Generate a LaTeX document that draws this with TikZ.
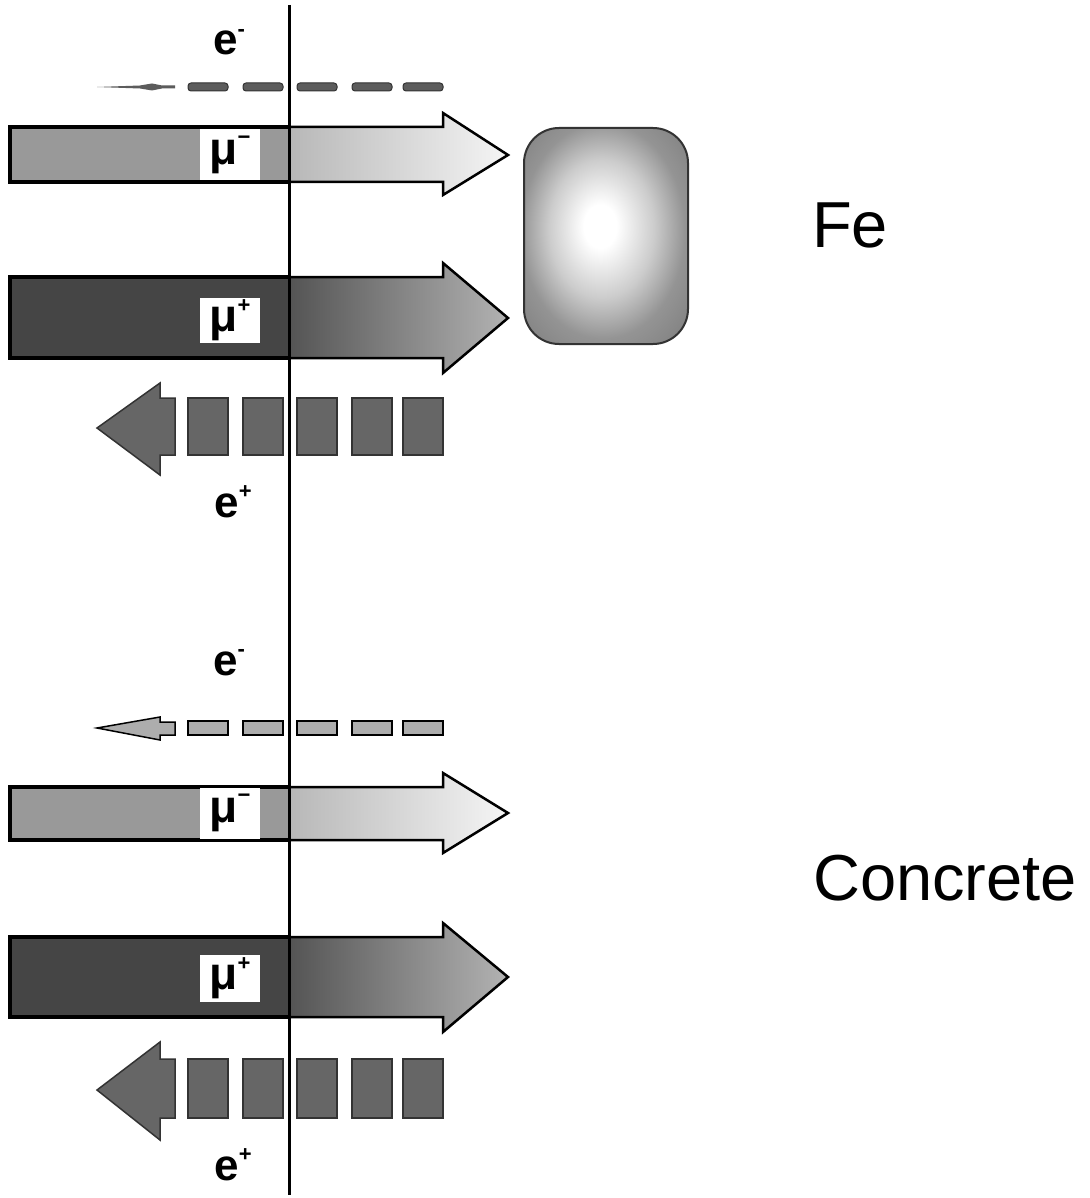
\documentclass[tikz,border=0pt]{standalone}
\usepackage{fontspec}
\setmainfont{Liberation Sans}

% grey levels used by the particle beams
\definecolor{bodylight}{gray}{0.60}
\definecolor{bodydark}{gray}{0.27}
\definecolor{fadelightA}{gray}{0.72}
\definecolor{fadelightB}{gray}{0.96}
\definecolor{fadedarkA}{gray}{0.33}
\definecolor{fadedarkB}{gray}{0.70}
\definecolor{positron}{gray}{0.40}
\definecolor{electronlight}{gray}{0.68}
\definecolor{electrondark}{gray}{0.36}
\definecolor{rimgray}{gray}{0.20}
\definecolor{glowA}{gray}{0.80}
\definecolor{glowB}{gray}{0.58}
\definecolor{glowC}{gray}{0.50}

% soft white core fading to grey for the absorber block
% (the +-25bp square of a shading covers the shaded path)
\pgfdeclareradialshading{blockglow}{\pgfpoint{-2bp}{2.5bp}}{%
  color(0bp)=(white); color(5bp)=(white); color(16bp)=(glowA);
  color(25bp)=(glowB); color(35bp)=(glowC); color(50bp)=(glowC)}

% small raised charge sign
\newcommand\chargeup[1]{\raisebox{0.42em}{\fontsize{22}{22}\selectfont\bfseries #1}}

% muon beam: #1,#2 body top/bottom; #3,#4 head top/bottom; #5 tip height;
% #6 body fill; #7,#8 fade colours behind the divider
\newcommand\muarrow[8]{%
  \fill[#6] (10,#1) rectangle (289,#2);
  \shade[left color=#7,right color=#8]
    (289,#1) -- (443,#1) -- (443,#3) -- (508,#5) -- (443,#4) -- (443,#2) -- (289,#2) -- cycle;
  \draw[outline]
    (289,#1) -- (443,#1) -- (443,#3) -- (508,#5) -- (443,#4) -- (443,#2) -- (289,#2);
  \draw[bodyrim] (289,#1) -- (10,#1) -- (10,#2) -- (289,#2);
}

% positron beam: #1,#2 box top/bottom; #3,#4 head top/bottom; #5 tip height
\newcommand\positrons[5]{%
  \draw[eplusbox] (175,#1) -- (160,#1) -- (160,#3) -- (97,#5) -- (160,#4) -- (160,#2) -- (175,#2) -- cycle;
  \foreach \x in {188,243,297,352,403}
    \draw[eplusbox] (\x,#1) rectangle (\x+40,#2);
}

\begin{document}
\begin{tikzpicture}[x=1pt,y=-1pt,
  outline/.style={draw=black,line width=2.5pt,line join=miter},
  bodyrim/.style={draw=black,line width=3.5pt,line join=miter},
  mubox/.style={fill=white,inner sep=0pt,minimum width=60pt,font=\fontsize{46}{46}\selectfont},
  elabel/.style={inner sep=0pt,anchor=base,font=\fontsize{44}{44}\selectfont\bfseries},
  matlabel/.style={inner sep=0pt,font=\fontsize{65}{65}\selectfont},
  eplusbox/.style={fill=positron,draw=rimgray,line width=1.5pt},
  eminusbox/.style={fill=electronlight,draw=black,line width=1.5pt},
  eminusfaint/.style={fill=electrondark,draw=rimgray,line width=1pt,rounded corners=3pt},
  divider/.style={line width=3pt}]

\path[use as bounding box,fill=white] (0,0) rectangle (1089,1198);

% ---------- iron section ----------
\node[elabel] (eminA) at (229,55) {e\chargeup{-}};
\fill[electrondark] (97,87) -- (140,85.5) -- (152,83.5) -- (162,85.5) -- (175,85.5)
  -- (175,88.5) -- (162,88.5) -- (152,90.5) -- (140,88.5) -- cycle;
\foreach \x in {188,243,297,352,403}
  \draw[eminusfaint] (\x,83) rectangle (\x+40,91);

\muarrow{127}{182}{113}{195}{155}{bodylight}{fadelightA}{fadelightB}
\node[mubox,minimum height=51pt] (muminA) at (230,155) {\textbf{μ}\chargeup{−}};

\muarrow{277}{358}{263}{373}{318}{bodydark}{fadedarkA}{fadedarkB}
\node[mubox,minimum height=45pt] (muplusA) at (230,320) {\textbf{μ}\chargeup{+}};

\positrons{398}{455}{383}{475}{428}
\node[elabel] (eplusA) at (233,517) {e\chargeup{+}};

\node[draw=rimgray,line width=2pt,rounded corners=35pt,minimum width=164pt,
      minimum height=216pt,inner sep=0pt,shade,shading=blockglow] (absorber) at (606,236) {};
\node[matlabel] (fe) at (850,225) {Fe};

% ---------- concrete section ----------
\node[elabel] (eminB) at (229,675) {e\chargeup{-}};
\draw[eminusbox] (175,722) -- (160,722) -- (160,717) -- (97,728) -- (160,740)
  -- (160,735) -- (175,735) -- cycle;
\foreach \x in {188,243,297,352,403}
  \draw[eminusbox] (\x,721) rectangle (\x+40,735);

\muarrow{787}{840}{773}{853}{813}{bodylight}{fadelightA}{fadelightB}
\node[mubox,minimum height=51pt] (muminB) at (230,813) {\textbf{μ}\chargeup{−}};

\muarrow{937}{1017}{923}{1032}{977}{bodydark}{fadedarkA}{fadedarkB}
\node[mubox,minimum height=47pt] (muplusB) at (230,978) {\textbf{μ}\chargeup{+}};

\positrons{1059}{1118}{1042}{1140}{1090}
\node[elabel] (eplusB) at (233,1180) {e\chargeup{+}};

\node[matlabel] (concrete) at (945,878) {Concrete};

% ---------- surface line ----------
\coordinate (surftop) at (289,5);
\coordinate (surfbot) at (289,1195);
\draw[divider] (surftop) -- (surfbot);
\end{tikzpicture}
\end{document}
